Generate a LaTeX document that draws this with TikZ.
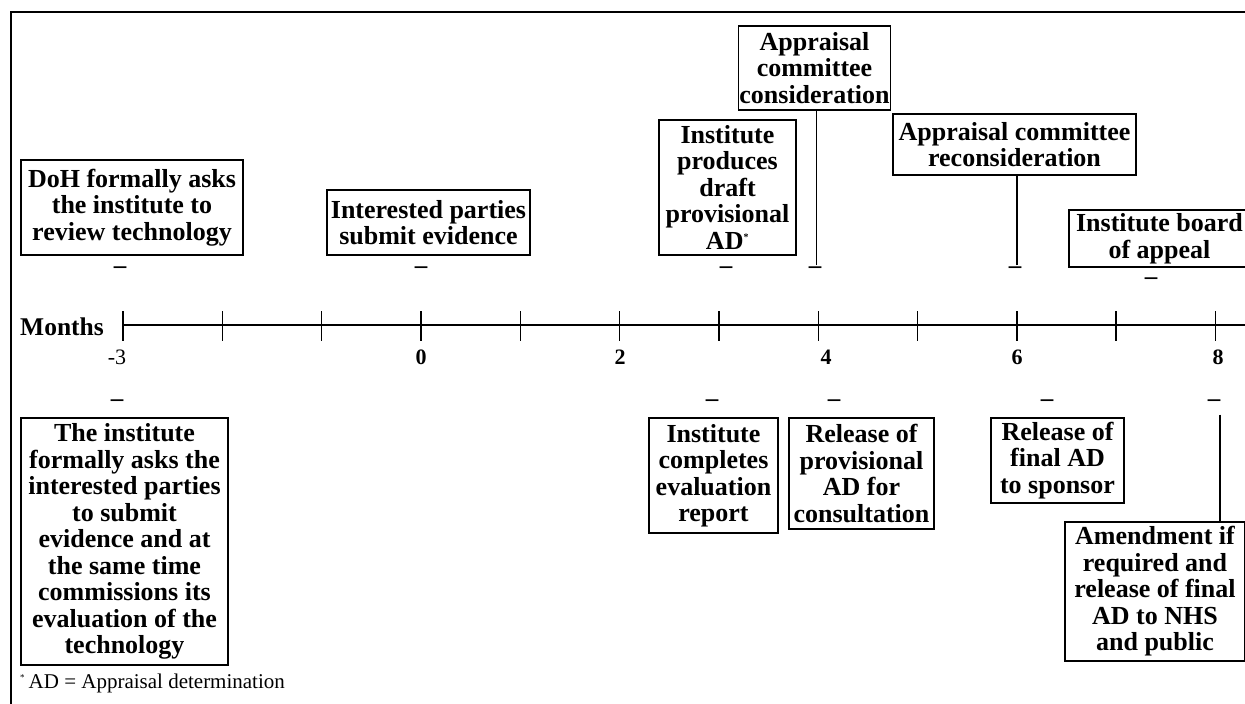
\documentclass[tikz,border=0pt]{standalone}
\usepackage{fontspec}
\setmainfont{Liberation Serif}
\usepackage{tikz}
\usetikzlibrary{calc}

\tikzset{
  evbox/.style={draw,line width=1.4pt,align=center,inner sep=1pt,
    font=\fontsize{26}{26.5}\selectfont\bfseries},
  mark dash/.style={inner sep=0pt,font=\fontsize{25}{26}\selectfont\bfseries},
  ticklbl/.style={inner sep=0pt,font=\fontsize{22}{22}\selectfont\bfseries},
}

\begin{document}
\begin{tikzpicture}[x=1pt,y=-1pt]
\useasboundingbox (0,0) rectangle (1245,704);
\clip (0,0) rectangle (1245,704);

\def\lw{1.4pt}
\def\mstep{99.3}

% frame
\draw[line width=\lw] (11,720) -- (11,12) -- (1260,12);

% axis
\node[anchor=west,inner sep=0pt,font=\fontsize{25.5}{26}\selectfont\bfseries] (months) at (20,327) {Months};
\draw[line width=\lw] (123,325) -- (1250,325);
\foreach \m in {-3,...,8}
  \draw[line width=\lw] ({421+\mstep*\m},311) -- ({421+\mstep*\m},341);

\node[ticklbl,font=\fontsize{22}{22}\selectfont] (lm3) at (117,357) {-3};
\node[ticklbl] (l0) at (421,357) {0};
\node[ticklbl] (l2) at (620,357) {2};
\node[ticklbl] (l4) at (826,357) {4};
\node[ticklbl] (l6) at (1017,357) {6};
\node[ticklbl] (l8) at (1218,357) {8};

% events above the axis
\node[evbox,minimum width=222pt,minimum height=95pt] (doh) at (132,207.5)
  {DoH formally asks\\the institute to\\review technology};
\node[evbox,minimum width=203pt,minimum height=65pt] (subm) at (428.5,222.5)
  {Interested parties\\submit evidence};
\node[evbox,minimum width=137pt,minimum height=135pt] (draft) at (727.5,187.5)
  {Institute\\produces\\draft\\provisional\\AD\textsuperscript{\fontsize{10}{10}\selectfont *}};
\node[evbox,minimum width=151pt,minimum height=84pt] (cons) at (814.5,68)
  {Appraisal\\committee\\consideration};
\node[evbox,minimum width=243pt,minimum height=61pt] (recons) at (1014.5,144.5)
  {Appraisal committee\\reconsideration};
\node[evbox,minimum width=181pt,minimum height=57pt] (appeal) at (1159.5,238.5)
  {Institute board\\of appeal};

\node[mark dash] (dDoH) at (120,270) {–};
\node[mark dash] (dSubm) at (421,270) {–};
\node[mark dash] (dDraft) at (726,270) {–};
\node[mark dash] (dCons) at (815,270) {–};
\node[mark dash] (dRecons) at (1015,270) {–};
\node[mark dash] (dAppeal) at (1151,281) {–};

\draw[line width=\lw] (dCons.north -| cons.south) ++(2,-1) coordinate (cTop) -- (cTop |- cons.south);
\draw[line width=\lw] (dRecons.north) ++(2,-1) coordinate (rTop) -- (rTop |- recons.south);

% events below the axis
\node[mark dash] (dAsks) at (117,403) {–};
\node[mark dash] (dCompl) at (712,403) {–};
\node[mark dash] (dProv) at (834,403) {–};
\node[mark dash] (dFinal) at (1047,403) {–};
\node[mark dash] (dAmend) at (1214,403) {–};

\node[evbox,minimum width=207pt,minimum height=247pt] (asks) at (124.5,541.5)
  {The institute\\formally asks the\\interested parties\\to submit\\evidence and at\\the same time\\commissions its\\evaluation of the\\technology};
\node[evbox,minimum width=129pt,minimum height=115pt] (compl) at (713.5,475.5)
  {Institute\\completes\\evaluation\\report};
\node[evbox,minimum width=145pt,minimum height=111pt] (prov) at (861.5,473.5)
  {Release of\\provisional\\AD for\\consultation};
\node[evbox,minimum width=133pt,minimum height=85pt] (final) at (1057.5,460.5)
  {Release of\\final AD\\to sponsor};
\node[evbox,minimum width=180pt,minimum height=139pt] (amend) at (1155,591.5)
  {Amendment if\\required and\\release of final\\AD to NHS\\and public};

\draw[line width=\lw] (dAmend.south) ++(6,8) coordinate (aTop) -- (aTop |- amend.north);

% footnote
\node[anchor=west,inner sep=0pt,font=\fontsize{21}{22}\selectfont] (note) at (20,683)
  {\textsuperscript{\fontsize{9}{9}\selectfont *}\,AD = Appraisal determination};

\end{tikzpicture}
\end{document}
